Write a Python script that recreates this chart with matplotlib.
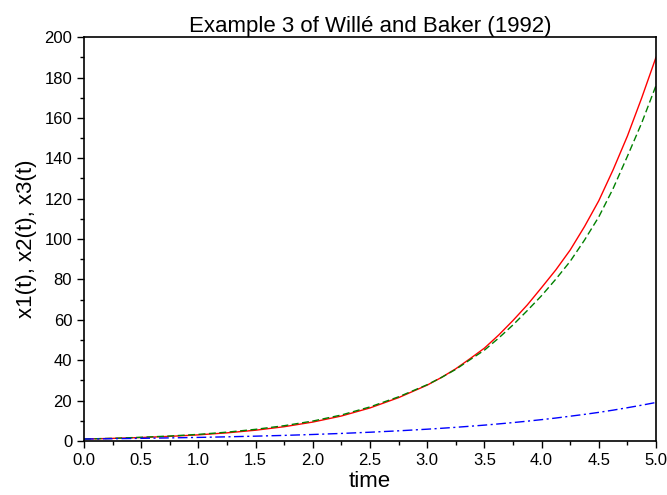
import matplotlib
matplotlib.use("Agg")
import matplotlib.pyplot as plt
from matplotlib.ticker import MultipleLocator, FormatStrFormatter

plt.rcParams['font.family'] = ['Liberation Sans', 'DejaVu Sans']

# values (finer steps where the curves bend fastest)
time = [0.0, 0.25, 0.5, 0.75, 1.0, 1.25, 1.5, 1.75, 2.0, 2.25, 2.5, 2.75,
        3.0, 3.125, 3.25, 3.375, 3.5, 3.625, 3.75, 3.875, 4.0, 4.125,
        4.25, 4.375, 4.5, 4.625, 4.75, 4.875, 5.0]
x1 = [1.0, 1.32, 1.75, 2.32, 3.06, 4.06, 5.37, 7.1, 9.4, 12.4, 16.4, 21.5,
      27.7, 31.5, 35.8, 40.8, 46.0, 52.5, 59.7, 67.4, 76.0, 84.8,
      94.6, 106.2, 119.0, 134.3, 151.0, 169.9, 190.0]
x2 = [1.0, 1.35, 1.85, 2.5, 3.3, 4.4, 5.8, 7.6, 9.9, 12.9, 16.9, 21.9,
      27.9, 31.5, 35.5, 40.3, 45.0, 51.0, 57.5, 64.6, 72.0, 80.2,
      89.0, 99.5, 111.0, 125.0, 141.0, 157.5, 176.0]
x3 = [1.0, 1.16, 1.34, 1.56, 1.8, 2.09, 2.42, 2.8, 3.25, 3.77, 4.37, 5.06,
      5.87, 6.32, 6.8, 7.33, 7.88, 8.49, 9.14, 9.84, 10.6, 11.4,
      12.3, 13.2, 14.2, 15.3, 16.5, 17.75, 19.1]

fig = plt.figure(figsize=(6.67, 4.95), dpi=100)
ax = fig.add_axes([0.126, 0.109, 0.8575, 0.816])

ax.plot(time, x1, color='#ff0000', lw=1.0, ls='-')
ax.plot(time, x2, color='#008000', lw=1.0, ls=(0, (5, 2.5)))
ax.plot(time, x3, color='#0000ff', lw=1.0, ls=(0, (7, 2.5, 1.5, 2.5)))

ax.set_xlim(0, 5)
ax.set_ylim(0, 200)
ax.xaxis.set_major_locator(MultipleLocator(0.5))
ax.xaxis.set_minor_locator(MultipleLocator(0.25))
ax.yaxis.set_major_locator(MultipleLocator(20))
ax.yaxis.set_minor_locator(MultipleLocator(10))
ax.xaxis.set_major_formatter(FormatStrFormatter('%.1f'))
ax.tick_params(which='major', direction='out', length=5, width=1, labelsize=12)
ax.tick_params(which='minor', direction='out', length=3, width=1)
for s in ax.spines.values():
    s.set_linewidth(1.2)

ax.set_xlabel('time', fontsize=16, labelpad=2)
ax.set_ylabel('x1(t), x2(t), x3(t)', fontsize=16, labelpad=5)
ax.set_title('Example 3 of Willé and Baker (1992)', fontsize=16, pad=3)

fig.savefig('out.png', dpi=100)
